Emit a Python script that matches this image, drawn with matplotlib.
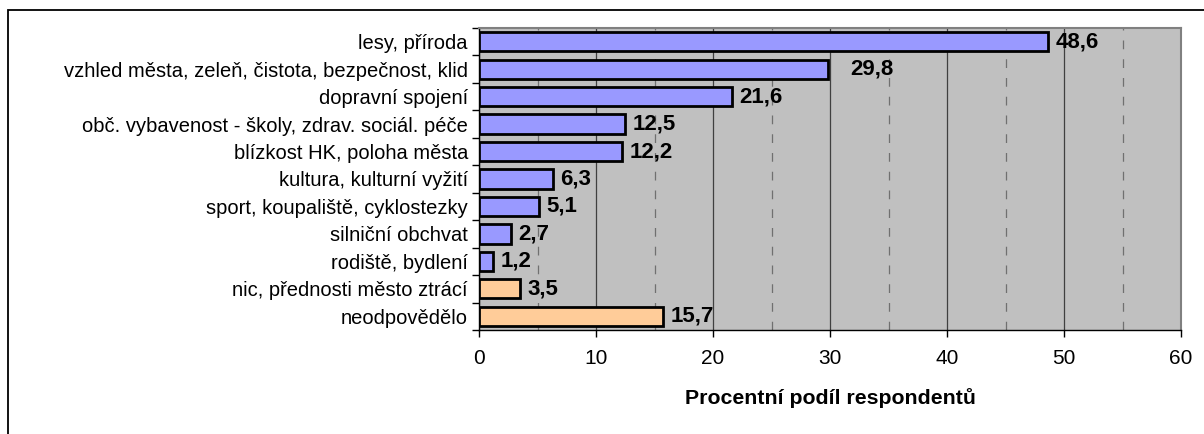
import matplotlib.pyplot as plt
from matplotlib.patches import Rectangle
from matplotlib.ticker import MultipleLocator

plt.rcParams['font.family'] = ['Liberation Sans', 'DejaVu Sans']

# data
categories = [
    "lesy, příroda",
    "vzhled města, zeleň, čistota, bezpečnost, klid",
    "dopravní spojení",
    "obč. vybavenost - školy, zdrav. sociál. péče",
    "blízkost HK, poloha města",
    "kultura, kulturní vyžití",
    "sport, koupaliště, cyklostezky",
    "silniční obchvat",
    "rodiště, bydlení",
    "nic, přednosti město ztrácí",
    "neodpovědělo",
]
values = [48.6, 29.8, 21.6, 12.5, 12.2, 6.3, 5.1, 2.7, 1.2, 3.5, 15.7]
groups = ["kladne"] * 9 + ["ostatni"] * 2

colors = {"kladne": "#9999FF", "ostatni": "#FFCC99"}

fig = plt.figure(figsize=(12.04, 4.34), dpi=100)
ax = fig.add_axes([479 / 1204, 1 - 330 / 434, 702 / 1204, 302 / 434])

# frame around the chart area (right/bottom edges cut off)
fig.patches.append(Rectangle((8 / 1204, -0.5), 2.0, 1 - 10 / 434 + 0.5,
                             transform=fig.transFigure, fill=False,
                             edgecolor="black", linewidth=1.3))

ax.set_facecolor("#C0C0C0")
y = list(range(len(categories)))
ax.barh(y, values, height=0.7, color=[colors[g] for g in groups],
        edgecolor="black", linewidth=2, zorder=3)

for i, v in enumerate(values):
    extra = 1.3 if v == 29.8 else 0
    ax.text(v + 0.65 + extra, i, f"{v:.1f}".replace(".", ","), va="center",
            ha="left", fontsize=16, fontweight="bold", zorder=4)

ax.set_xlim(0, 60)
ax.set_ylim(len(categories) - 0.5, -0.5)
ax.xaxis.set_major_locator(MultipleLocator(10))
ax.xaxis.set_minor_locator(MultipleLocator(5))
ax.grid(axis="x", which="major", color="#404040", linewidth=0.9, zorder=1)
ax.grid(axis="x", which="minor", color="#707070", linewidth=0.9,
        linestyle=(0, (7, 8)), zorder=1)

ax.set_yticks(y)
ax.set_yticklabels(categories, fontsize=14.5)
ax.set_yticks([i + 0.5 for i in range(-1, len(categories))], minor=True)
ax.tick_params(axis="y", which="major", length=0, pad=8)
ax.tick_params(axis="y", which="minor", length=5, width=1)
ax.tick_params(axis="x", which="major", length=5, width=1, labelsize=15, pad=9)
ax.tick_params(axis="x", which="minor", length=0)

for s in ["top", "right"]:
    ax.spines[s].set_color("#808080")
    ax.spines[s].set_linewidth(1.5)
for s in ["left", "bottom"]:
    ax.spines[s].set_color("black")
    ax.spines[s].set_linewidth(1)

ax.set_xlabel("Procentní podíl respondentů", fontsize=15.3, fontweight="bold",
              labelpad=14)

fig.savefig("out.png", dpi=100)
